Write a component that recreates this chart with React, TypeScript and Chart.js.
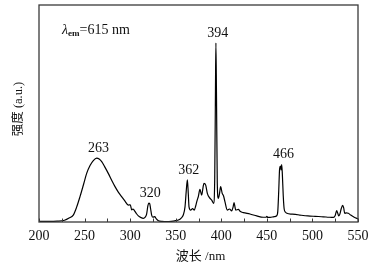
import React, { useEffect, useRef } from "react";
import { Chart, registerables } from "chart.js";

Chart.register(...registerables);

const wavelengths: number[] = [
  200, 210, 220, 228, 233, 237.6, 241, 245, 249, 252.3, 256, 259.6, 263.3, 266, 268.8, 272, 276, 280, 283.4, 287,
  290.7, 294, 298, 300.2, 301.7, 303, 304.5, 307, 309, 312, 314.4, 316.5, 318, 319.5, 320.5, 321.5, 322.5, 323.6,
  325, 327, 328.5, 331, 335, 340, 345, 350, 353, 356, 358.3, 360.2, 361.5, 362.8, 363.8, 364.6, 366.4, 368.5, 370.4,
  372, 373.5, 374.8, 376.6, 378.5, 380, 381, 382.9, 384.7, 387, 389.5, 391.5, 392.8, 393.6, 394.1, 394.7, 395.6,
  396.7, 398, 399.3, 401, 402.5, 404, 406.6, 409, 411.4, 413, 414, 415, 415.8, 418.7, 421, 424.2, 431.5, 438.9, 446,
  449, 450, 451, 453.5, 458, 460.8, 462, 463, 464, 465, 465.6, 466.3, 467, 468, 469, 470.5, 472, 478, 486, 495, 503,
  512, 518, 523, 525, 526.6, 527.8, 528.8, 530, 531.5, 533.2, 534.3, 535.4, 537, 539.4, 542, 545, 548, 550,
];

const intensity: number[] = [
  0.3, 0.3, 0.4, 0.8, 1.8, 3.2, 6.5, 11.7, 17.5, 22.4, 26, 28.3, 29.4, 29, 27.8, 25.5, 22.4, 19, 16.3, 13.8,
  11.7, 9.8, 7.8, 7.9, 5.6, 6.0, 5.4, 3.8, 2.8, 2.0, 1.7, 2.2, 3.5, 7.5, 8.7, 8.4, 6, 3.2,
  2.2, 2.5, 1.6, 0.6, 0.3, 0.2, 0.3, 0.6, 0.9, 1.8, 3.2, 7, 14, 19.4, 13, 7, 5.5, 6.2, 5.5,
  7.5, 10, 11.7, 15, 12.4, 16, 17.8, 17, 13.2, 11.2, 10.1, 8.6, 20, 60, 82.5, 60, 18,
  10.9, 13, 16.3, 13.2, 12, 9.4, 5.5, 6.0, 5.1, 7, 8.9, 7, 5.5, 5.8, 4.8, 4.3, 3.7, 2.8, 2.2,
  2.2, 2.6, 2.1, 2.1, 2.5, 2.9, 5, 14, 24.5, 25.8, 24, 26.5, 22, 12, 6, 4.5, 4, 3.6, 3.2, 2.8, 2.6,
  2.4, 2.2, 2.1, 3, 5.2, 4, 2.8, 3.5, 6, 7.7, 6.5, 4, 4.2, 4, 3.2, 2.4, 1.8, 1.4,
];

const peakLabels: number[] = [263, 320, 362, 394, 466];
const xTicks: number[] = [200, 250, 300, 350, 400, 450, 500, 550];
const xMinorTicks: number[] = [225, 275, 325, 375, 425, 475, 525];

const xTitle = "波长 /nm";
const yTitle = "强度 (a.u.)";
const serif = '"Liberation Serif", "Noto Sans CJK SC", serif';

const decorPlugin = {
  id: "decor",
  afterDraw(chart: any) {
    const ctx = chart.ctx as CanvasRenderingContext2D;
    const { left, right, top, bottom } = chart.chartArea;
    const xs = chart.scales.x;
    const ys = chart.scales.y;
    ctx.save();
    // frame
    ctx.strokeStyle = "#3a3a3a";
    ctx.lineWidth = 1.3;
    ctx.strokeRect(left, top, right - left, bottom - top);
    // inward ticks
    ctx.lineWidth = 1;
    ctx.beginPath();
    [...xTicks, ...xMinorTicks].forEach((v) => {
      const px = Math.round(xs.getPixelForValue(v)) + 0.5;
      ctx.moveTo(px, bottom);
      ctx.lineTo(px, bottom - 3.5);
    });
    ctx.stroke();

    ctx.fillStyle = "#111";
    // peak labels
    ctx.font = `14px ${serif}`;
    ctx.textAlign = "center";
    ctx.textBaseline = "bottom";
    peakLabels.forEach((p) => {
      let best = 0;
      wavelengths.forEach((w, i) => {
        if (Math.abs(w - p) <= 2 && intensity[i] > best) best = intensity[i];
      });
      const px = xs.getPixelForValue(p) + 2;
      const py = ys.getPixelForValue(best) - 3;
      ctx.fillText(String(p), px, py);
    });

    // lambda annotation
    ctx.textAlign = "left";
    ctx.textBaseline = "alphabetic";
    let x = 62;
    const base = 34;
    ctx.font = `italic 14px ${serif}`;
    ctx.fillText("λ", x, base);
    x += ctx.measureText("λ").width;
    ctx.font = `bold 9px ${serif}`;
    ctx.fillText("em", x, base + 2);
    x += ctx.measureText("em").width;
    ctx.font = `14px ${serif}`;
    ctx.fillText("=615 nm", x, base);

    // x title
    ctx.font = `13px ${serif}`;
    ctx.textAlign = "center";
    ctx.textBaseline = "middle";
    ctx.fillText(xTitle, (left + right) / 2 + 2, 257);

    // y title
    ctx.translate(19, 109);
    ctx.rotate(-Math.PI / 2);
    ctx.font = `12.5px ${serif}`;
    ctx.fillText(yTitle, 0, 0);
    ctx.restore();
  },
};

export default function App() {
  const ref = useRef<HTMLCanvasElement | null>(null);
  useEffect(() => {
    if (!ref.current) return;
    const chart = new Chart(ref.current, {
      type: "line",
      data: {
        datasets: [
          {
            data: wavelengths.map((w, i) => ({ x: w, y: intensity[i] })),
            borderColor: "#000",
            borderWidth: 1.2,
            pointRadius: 0,
            cubicInterpolationMode: "monotone",
            fill: false,
          },
        ],
      },
      options: {
        animation: false,
        responsive: false,
        devicePixelRatio: 1,
        layout: { padding: { left: 39, right: 22, top: 5, bottom: 0 } },
        plugins: { legend: { display: false }, tooltip: { enabled: false } },
        scales: {
          x: {
            type: "linear",
            min: 200,
            max: 550,
            afterFit: (s: any) => {
              s.height = 45;
            },
            afterBuildTicks: (s: any) => {
              s.ticks = xTicks.map((v) => ({ value: v }));
            },
            grid: { display: false, drawTicks: false },
            border: { display: false },
            ticks: {
              padding: 6,
              color: "#111",
              font: { family: serif, size: 14 },
              maxRotation: 0,
            },
          },
          y: {
            type: "linear",
            min: 0,
            max: 100,
            display: false,
          },
        },
      },
      plugins: [decorPlugin],
    });
    return () => chart.destroy();
  }, []);
  return (
    <div style={{ position: "absolute", left: 0, top: 0, width: 380, height: 267, background: "#fff" }}>
      <canvas ref={ref} width={380} height={267} />
    </div>
  );
}
